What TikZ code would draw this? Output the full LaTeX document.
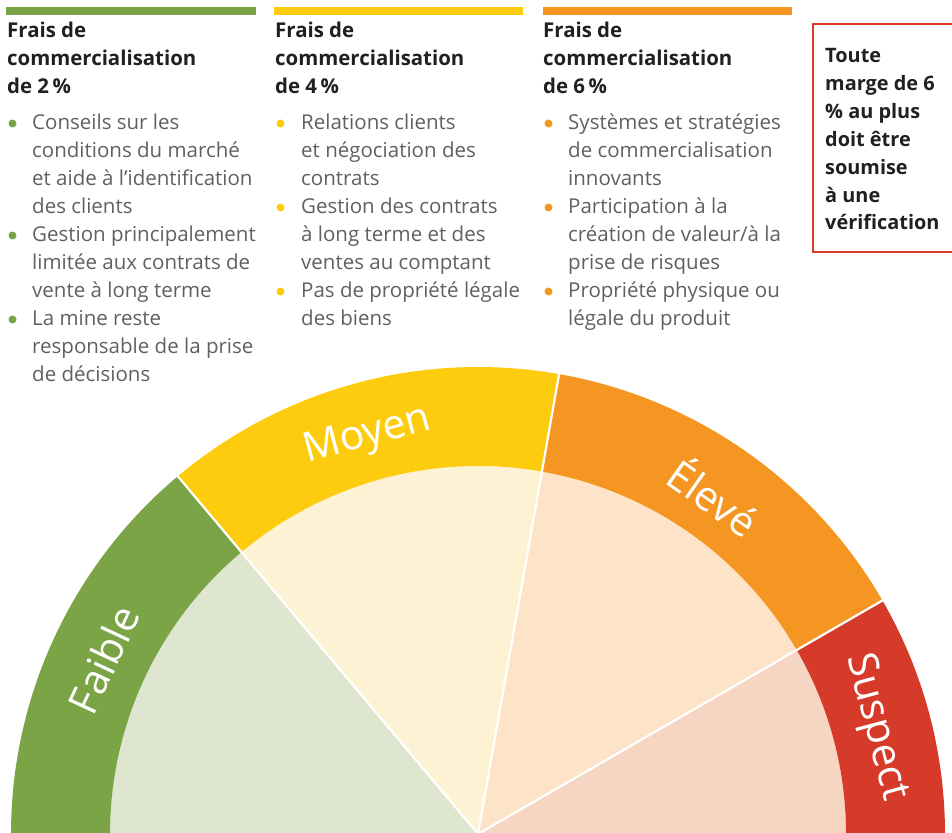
\documentclass[tikz,border=0pt]{standalone}
\usepackage{fontspec}
\setmainfont{Open Sans}
\newfontfamily\labfont{Open Sans}
\definecolor{cgreen}{HTML}{7BA446}
\definecolor{lgreen}{HTML}{DFE6D0}
\definecolor{cyellow}{HTML}{FECC0F}
\definecolor{lyellow}{HTML}{FEF2D4}
\definecolor{corange}{HTML}{F59623}
\definecolor{lorange}{HTML}{FDE3C8}
\definecolor{cred}{HTML}{D63A28}
\definecolor{lred}{HTML}{F6D5C3}
\definecolor{bodycol}{HTML}{5F6062}
\definecolor{hdrcol}{HTML}{231F20}
\tikzset{
  hdr/.style={anchor=base west, inner sep=0pt, font=\fontsize{20.4}{28}\selectfont\bfseries, text=hdrcol},
  body/.style={anchor=base west, inner sep=0pt, font=\fontsize{20.5}{28}\selectfont, text=bodycol},
  lab/.style={font=\labfont\fontsize{41}{44}\selectfont, text=white, inner sep=0pt, anchor=center},
  divider/.style={white, line width=2.2pt},
  redbox/.style={draw=cred, line width=2.2pt},
}
\begin{document}
\begin{tikzpicture}[x=1pt,y=1pt]
\useasboundingbox (0,0) rectangle (952,-832);
% top bars
\fill[cgreen] (6,-7) rectangle (256,-15);
\fill[cyellow] (274,-7) rectangle (523,-15);
\fill[corange] (543,-7) rectangle (792,-15);
% headers
\foreach \t [count=\i from 0] in {Frais de, commercialisation, de 2\,\%}
  \node[hdr] (h1\i) at (7,{-38-28*\i}) {\t};
\foreach \t [count=\i from 0] in {Frais de, commercialisation, de 4\,\%}
  \node[hdr] (h2\i) at (275,{-38-28*\i}) {\t};
\foreach \t [count=\i from 0] in {Frais de, commercialisation, de 6\,\%}
  \node[hdr] (h3\i) at (543,{-38-28*\i}) {\t};
% column 1
\foreach \t [count=\i from 0] in {Conseils sur les, conditions du marché, et aide à l’identification, des clients, Gestion principalement, limitée aux contrats de, vente à long terme, La mine reste, responsable de la prise, de décisions}
  \node[body] (a\i) at (32,{-129-28*\i}) {\t};
\foreach \i in {0,4,7} \fill[cgreen] (12.5,{-123.5-28*\i}) circle (4);
% column 2
\foreach \t [count=\i from 0] in {Relations clients, et négociation des, contrats, Gestion des contrats, à long terme et des, ventes au comptant, Pas de propriété légale, des biens}
  \node[body] (b\i) at (301,{-129-28*\i}) {\t};
\foreach \i in {0,3,6} \fill[cyellow] (280.5,{-123.5-28*\i}) circle (4);
% column 3
\foreach \t [count=\i from 0] in {Systèmes et stratégies, de commercialisation, innovants, Participation à la, création de valeur/à la, prise de risques, Propriété physique ou, légale du produit}
  \node[body] (c\i) at (568,{-129-28*\i}) {\t};
\foreach \i in {0,3,6} \fill[corange] (548.5,{-123.5-28*\i}) circle (4);
% red box
\draw[redbox] (813,-24) rectangle (960,-252);
\foreach \t [count=\i from 0] in {Toute, marge de 6, \% au plus, doit être, soumise, à une, vérification}
  \node[hdr, font=\fontsize{19.9}{28}\selectfont\bfseries] (d\i) at (825,{-63-27.8*\i}) {\t};
% gauge
\begin{scope}[shift={(478,-834)}]
  \coordinate (ctr) at (0,0);
  \foreach \a/\b/\lc/\dc in {180/130/lgreen/cgreen, 130/80/lyellow/cyellow, 80/30/lorange/corange, 30/0/lred/cred}{
    \fill[\lc] (ctr) -- (\a:368) arc[start angle=\a, end angle=\b, radius=368] -- cycle;
    \fill[\dc] (\a:368) -- (\a:467) arc[start angle=\a, end angle=\b, radius=467] -- (\b:368) arc[start angle=\b, end angle=\a, radius=368] -- cycle;
  }
  \foreach \a in {130,80,30} \draw[divider] (ctr) -- (\a:468);
  \node[lab, rotate=65] (lf) at (155:413) {Faible};
  \node[lab, rotate=15] (lm) at (105.5:413) {Moyen};
  \node[lab, rotate=-35] (le) at (55:413) {Élevé};
  \node[lab, rotate=-75] (ls) at (15:412) {Suspect};
\end{scope}
\end{tikzpicture}
\end{document}
